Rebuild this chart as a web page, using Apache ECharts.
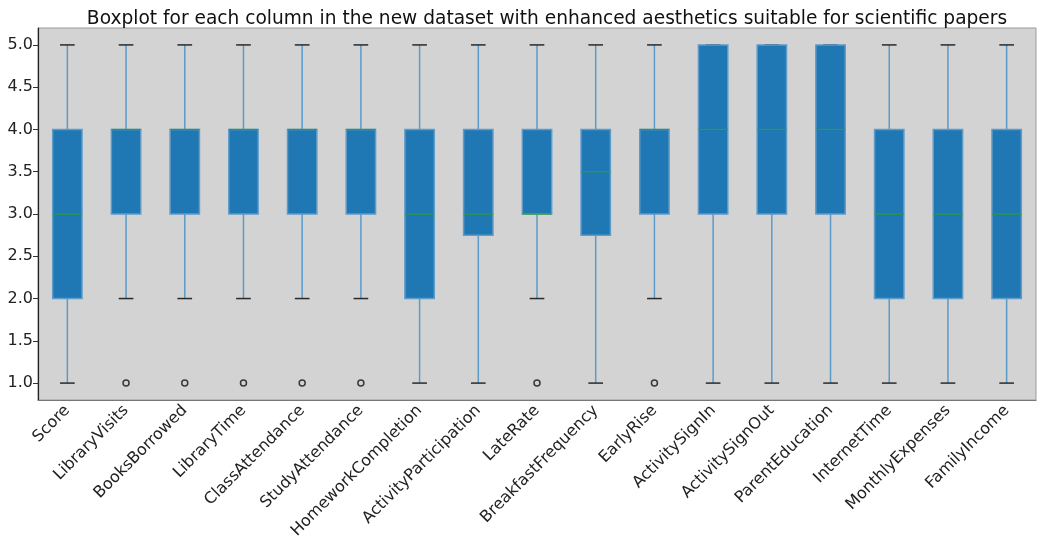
<!DOCTYPE html>
<html>
<head>
<meta charset="utf-8">
<script src="https://cdn.jsdelivr.net/npm/echarts@6/dist/echarts.min.js"></script>
<style>html,body{margin:0;padding:0;background:#fff;}#c{width:1039px;height:536px;}</style>
</head>
<body>
<div id="c"></div>
<script>
var categories = ["Score","LibraryVisits","BooksBorrowed","LibraryTime","ClassAttendance","StudyAttendance","HomeworkCompletion","ActivityParticipation","LateRate","BreakfastFrequency","EarlyRise","ActivitySignIn","ActivitySignOut","ParentEducation","InternetTime","MonthlyExpenses","FamilyIncome"];
var whiskerLow = [1,2,2,2,2,2,1,1,2,1,2,1,1,1,1,1,1];
var q1 =         [2,3,3,3,3,3,2,2.75,3,2.75,3,3,3,3,2,2,2];
var median =     [3,4,4,4,4,4,3,3,3,3.5,4,4,4,4,3,3,3];
var q3 =         [4,4,4,4,4,4,4,4,4,4,4,5,5,5,4,4,4];
var whiskerHigh =[5,5,5,5,5,5,5,5,5,5,5,5,5,5,5,5,5];
var outliers = [["LibraryVisits",1],["BooksBorrowed",1],["LibraryTime",1],["ClassAttendance",1],["StudyAttendance",1],["LateRate",1],["EarlyRise",1]];
var yTicks = [1.0,1.5,2.0,2.5,3.0,3.5,4.0,4.5,5.0];

var boxData = categories.map(function(c,i){return [i, whiskerLow[i], q1[i], median[i], q3[i], whiskerHigh[i]];});

var chart = echarts.init(document.getElementById('c'));
chart.setOption({
  animation:false,
  title:{text:"Boxplot for each column in the new dataset with enhanced aesthetics suitable for scientific papers",
    left:542, textAlign:'center', top:5,
    textStyle:{fontFamily:'DejaVu Sans', fontSize:18.6, fontWeight:'normal', color:'#111'}},
  grid:{left:38,right:3,top:28,bottom:136,containLabel:false,outerBoundsMode:'none',show:true,backgroundColor:'#d3d3d3',borderColor:'#9a9a9a',borderWidth:1},
  xAxis:{type:'category',data:categories,boundaryGap:true,
    axisLine:{lineStyle:{color:'#777',width:1.2}},
    axisTick:{alignWithLabel:true,length:5,lineStyle:{color:'#333'}},
    axisLabel:{rotate:45,interval:0,fontFamily:'DejaVu Sans',fontSize:16,color:'#222',margin:8},
    splitLine:{show:false}},
  yAxis:{type:'value',min:0.8,max:5.2,
    axisLine:{show:true,lineStyle:{color:'#222',width:1.2}},
    axisTick:{show:true,length:5,customValues:yTicks,lineStyle:{color:'#333'}},
    axisLabel:{customValues:yTicks,fontFamily:'DejaVu Sans',fontSize:16,color:'#222',margin:5,
      formatter:function(v){return Number(v).toFixed(1);}},
    splitLine:{show:false}},
  series:[{
    type:'custom',
    data:boxData,
    encode:{x:0,y:[1,2,3,4,5]},
    renderItem:function(params,api){
      var x = api.value(0);
      var w = api.size([1,0])[0]*0.5;
      var cw = w*0.5;
      var pLow = api.coord([x,api.value(1)]);
      var pQ1 = api.coord([x,api.value(2)]);
      var pMed = api.coord([x,api.value(3)]);
      var pQ3 = api.coord([x,api.value(4)]);
      var pHigh = api.coord([x,api.value(5)]);
      var cx = pQ1[0];
      var wl = {stroke:'#5c9ac9',lineWidth:1.5};
      var cap = {stroke:'#2a2a2a',lineWidth:1.5};
      return {type:'group',children:[
        {type:'line',shape:{x1:cx,y1:pQ1[1],x2:cx,y2:pLow[1]},style:wl},
        {type:'line',shape:{x1:cx,y1:pQ3[1],x2:cx,y2:pHigh[1]},style:wl},
        {type:'line',shape:{x1:cx-cw/2,y1:pLow[1],x2:cx+cw/2,y2:pLow[1]},style:cap},
        {type:'line',shape:{x1:cx-cw/2,y1:pHigh[1],x2:cx+cw/2,y2:pHigh[1]},style:cap},
        {type:'rect',shape:{x:cx-w/2,y:pQ3[1],width:w,height:pQ1[1]-pQ3[1]},style:{fill:'#1f77b4',stroke:'#5f9bc8',lineWidth:1.5}},
        {type:'line',shape:{x1:cx-w/2,y1:pMed[1],x2:cx+w/2,y2:pMed[1]},style:{stroke:'#2ca02c',lineWidth:1.2}}
      ]};
    }
  },{
    type:'scatter',
    data:outliers,
    symbol:'circle',symbolSize:6,
    itemStyle:{color:'none',borderColor:'#111',borderWidth:1.5}
  }]
});
</script>
</body>
</html>
